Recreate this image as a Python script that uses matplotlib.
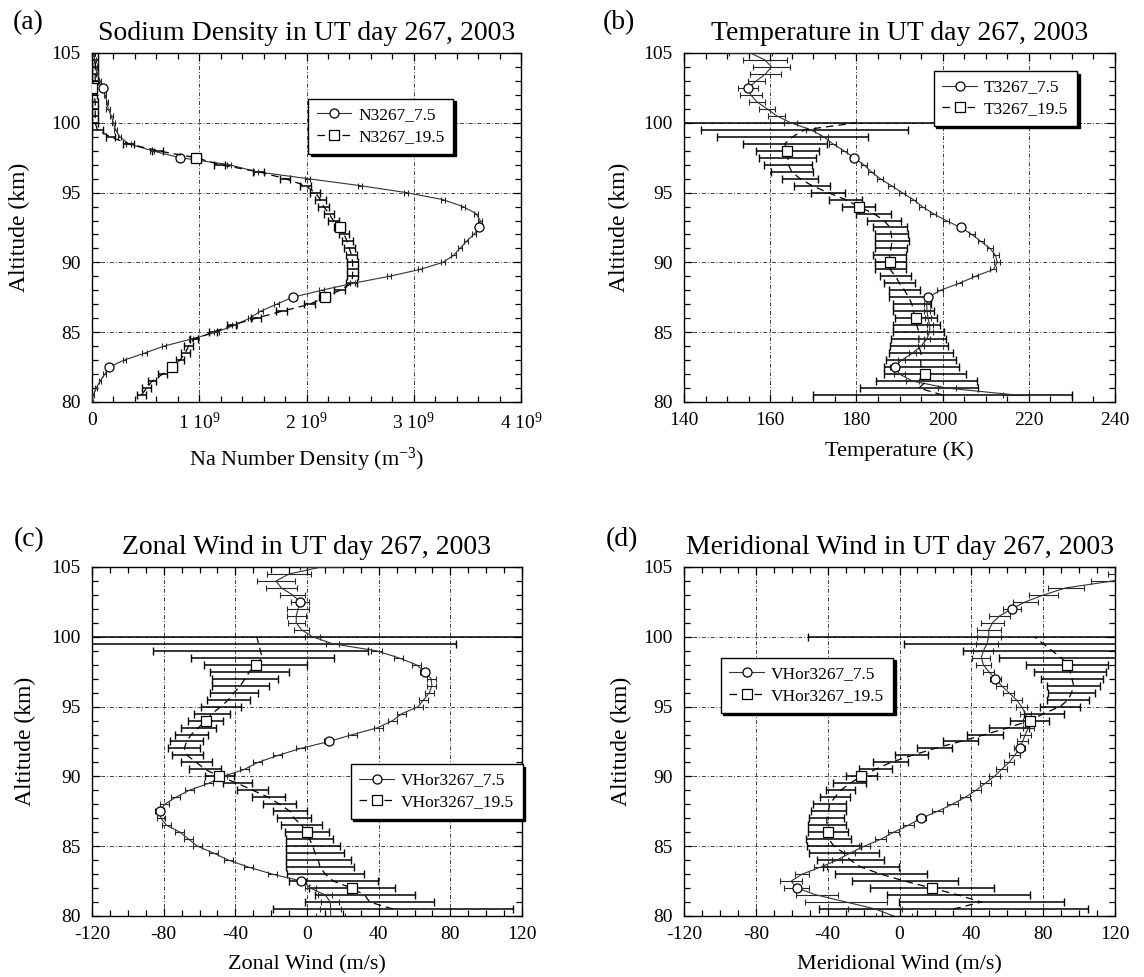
import numpy as np
import matplotlib
matplotlib.use("Agg")
import matplotlib.pyplot as plt
from matplotlib.ticker import MultipleLocator

nan = np.nan

plt.rcParams['font.family'] = ['Liberation Serif', 'DejaVu Serif']
plt.rcParams['mathtext.default'] = 'regular'
plt.rcParams['axes.unicode_minus'] = False

# altitude grid (km), shared by every profile
alt = [80.0, 80.5, 81.0, 81.5, 82.0, 82.5, 83.0, 83.5, 84.0, 84.5,
       85.0, 85.5, 86.0, 86.5, 87.0, 87.5, 88.0, 88.5, 89.0, 89.5,
       90.0, 90.5, 91.0, 91.5, 92.0, 92.5, 93.0, 93.5, 94.0, 94.5,
       95.0, 95.5, 96.0, 96.5, 97.0, 97.5, 98.0, 98.5, 99.0, 99.5,
       100.0, 100.5, 101.0, 101.5, 102.0, 102.5, 103.0, 103.5, 104.0, 104.5,
       105.0]

# (a) Na density, 1e9 m^-3
na_07 = [0.00, 0.01, 0.04, 0.075, 0.12, 0.16, 0.30, 0.49, 0.67, 0.92,
         1.16, 1.33, 1.47, 1.57, 1.72, 1.87, 2.14, 2.43, 2.77, 3.06,
         3.27, 3.37, 3.43, 3.49, 3.56, 3.61, 3.62, 3.58, 3.46, 3.27,
         2.93, 2.50, 2.01, 1.53, 1.28, 0.82, 0.56, 0.34, 0.26, 0.22,
         0.20, 0.18, 0.15, 0.14, 0.12, 0.10, 0.075, 0.05, 0.035, 0.024,
         0.017]
na_07_err = [0.01, 0.01, 0.01, 0.01, 0.015, 0.015, 0.015, 0.02, 0.02, 0.02,
             0.02, 0.02, 0.02, 0.02, 0.02, 0.02, 0.02, 0.02, 0.02, 0.02,
             0.02, 0.02, 0.02, 0.02, 0.02, 0.02, 0.02, 0.02, 0.02, 0.02,
             0.02, 0.02, 0.02, 0.02, 0.02, 0.02, 0.02, 0.02, 0.015, 0.015,
             0.015, 0.015, 0.015, 0.01, 0.01, 0.01, 0.01, 0.01, 0.01, 0.01,
             0.01]
na_19 = [nan, 0.46, 0.51, 0.56, 0.66, 0.75, 0.82, 0.87, 0.90, 0.95,
         1.13, 1.30, 1.53, 1.77, 2.03, 2.17, 2.31, 2.42, 2.43, 2.43,
         2.43, 2.42, 2.40, 2.38, 2.35, 2.31, 2.25, 2.21, 2.16, 2.13,
         2.08, 1.99, 1.80, 1.55, 1.19, 0.97, 0.61, 0.34, 0.17, 0.05,
         0.03, 0.03, 0.03, 0.03, 0.02, 0.00, 0.03, 0.03, 0.03, 0.03,
         0.03]
na_19_err = [nan, 0.04, 0.04, 0.04, 0.04, 0.04, 0.04, 0.04, 0.04, 0.04,
             0.04, 0.04, 0.05, 0.05, 0.05, 0.05, 0.05, 0.05, 0.05, 0.05,
             0.05, 0.05, 0.05, 0.05, 0.05, 0.05, 0.05, 0.05, 0.05, 0.05,
             0.05, 0.05, 0.05, 0.05, 0.05, 0.05, 0.05, 0.05, 0.04, 0.05,
             0.03, 0.03, 0.03, 0.03, 0.03, 0.03, 0.03, 0.03, 0.03, 0.03,
             0.03]

# (b) temperature, K
t_07 = [nan, 217.0, 201.0, 193.0, 190.0, 188.9, 190.5, 193.0, 195.0, 196.3,
        197.0, 197.0, 196.6, 196.4, 196.3, 196.6, 199.5, 203.8, 207.6, 211.8,
        212.7, 212.3, 211.0, 208.9, 206.8, 204.2, 200.8, 197.8, 195.3, 193.2,
        190.6, 188.1, 185.5, 183.4, 181.7, 179.4, 177.1, 174.5, 172.4, 169.4,
        164.8, 161.5, 159.3, 156.9, 155.5, 154.9, 156.8, 158.9, 160.3, 158.8,
        155.4]
t_07_err = [nan, 3.0, 2.0, 1.5, 1.2, 1.0, 0.8, 0.8, 0.8, 0.7,
            0.7, 0.7, 0.7, 0.7, 0.7, 0.7, 0.7, 0.7, 0.7, 0.7,
            0.7, 0.7, 0.7, 0.7, 0.7, 0.7, 0.7, 0.7, 0.7, 0.7,
            0.7, 0.7, 0.7, 0.7, 0.7, 0.7, 0.7, 0.8, 0.9, 1.0,
            1.5, 1.9, 1.8, 1.9, 2.5, 2.3, 1.9, 3.5, 4.2, 5.0,
            5.0]
t_19 = [nan, 200.0, 194.5, 196.3, 196.0, 195.0, 194.9, 195.0, 194.5, 194.5,
        194.5, 194.0, 193.8, 193.2, 192.9, 192.1, 191.2, 190.0, 189.1, 187.8,
        187.8, 187.7, 188.0, 188.3, 188.1, 187.8, 186.4, 184.0, 180.5, 177.5,
        173.4, 169.7, 166.9, 165.0, 164.2, 164.1, 164.0, 163.4, 165.2, 168.0,
        180.0, nan, nan, nan, nan, nan, nan, nan, nan, nan,
        nan]
t_19_err = [nan, 30.0, 13.6, 11.7, 9.5, 8.7, 8.1, 7.4, 6.8, 6.4,
            5.9, 5.5, 4.9, 4.7, 4.5, 4.5, 3.6, 3.6, 3.6, 3.6,
            3.6, 3.8, 3.7, 4.0, 3.8, 3.9, 4.0, 4.0, 3.8, 3.8,
            4.0, 4.1, 4.2, 4.9, 5.6, 6.6, 7.4, 9.8, 17.5, 24.0,
            45.0, nan, nan, nan, nan, nan, nan, nan, nan, nan,
            nan]

# (c) zonal wind, m/s
u_07 = [13.2, 13.2, 13.0, 10.2, 2.0, -3.1, -19.4, -32.6, -43.8, -52.0,
        -61.1, -66.0, -70.9, -78.4, -81.5, -82.1, -79.5, -73.3, -65.8, -55.0,
        -46.9, -35.0, -27.5, -16.3, -3.7, 12.2, 25.5, 39.7, 47.9, 53.0,
        62.1, 65.2, 68.3, 69.7, 69.3, 65.8, 61.0, 51.0, 38.7, 14.3,
        3.1, -3.0, -6.0, -6.0, -5.0, -3.7, -8.1, -14.3, -17.3, -10.0,
        8.0]
u_07_err = [8.0, 6.0, 5.0, 4.0, 3.0, 2.5, 2.5, 2.5, 2.5, 2.5,
            2.5, 2.5, 2.5, 2.5, 2.5, 2.5, 2.5, 2.5, 2.5, 2.5,
            2.5, 2.5, 2.5, 2.5, 2.5, 2.5, 2.5, 2.5, 2.5, 2.5,
            2.5, 2.5, 2.5, 2.5, 2.5, 2.5, 2.5, 2.5, 3.0, 3.5,
            4.0, 4.3, 4.8, 5.4, 6.3, 5.0, 7.1, 8.7, 10.4, 12.4,
            12.0]
u_19 = [nan, 48.0, 35.0, 32.2, 24.9, 14.7, 10.2, 7.3, 6.3, 4.5,
        3.3, 1.4, 0.0, -3.1, -7.1, -9.4, -15.3, -21.4, -30.2, -38.7,
        -48.9, -56.8, -61.7, -66.8, -68.5, -67.2, -64.6, -60.5, -56.6, -53.0,
        -48.0, -43.8, -40.7, -37.2, -34.6, -32.1, -28.7, -25.0, -26.0, -27.0,
        -28.0, nan, nan, nan, nan, nan, nan, nan, nan, nan,
        nan]
u_19_err = [nan, 67.0, 36.0, 27.8, 24.0, 25.0, 21.4, 19.0, 18.0, 16.2,
            15.1, 13.2, 12.2, 11.2, 9.4, 9.4, 9.2, 9.2, 8.7, 8.2,
            8.2, 8.9, 8.7, 8.7, 9.0, 9.2, 9.2, 9.6, 9.7, 10.2,
            11.4, 12.2, 13.2, 15.8, 18.3, 21.9, 28.7, 40.0, 60.0, 110.0,
            200.0, nan, nan, nan, nan, nan, nan, nan, nan, nan,
            nan]

# (d) meridional wind, m/s
v_07 = [-3.3, -13.4, -29.7, -46.0, -57.3, -60.3, -54.2, -44.0, -34.8, -27.7,
        -19.6, -10.4, -3.3, 4.9, 12.0, 21.2, 29.3, 36.5, 42.6, 47.7,
        52.8, 56.8, 61.0, 64.0, 67.0, 68.5, 70.1, 71.7, 71.7, 70.1,
        68.0, 65.0, 60.9, 56.8, 53.4, 49.7, 46.7, 45.6, 46.7, 48.7,
        49.7, 49.7, 51.8, 55.8, 62.5, 70.0, 80.3, 92.5, 118.9, 128.0,
        135.0]
v_07_err = [10.0, 15.0, 23.0, 11.7, 7.0, 6.0, 4.0, 3.5, 3.0, 3.0,
            3.0, 3.0, 3.0, 3.0, 3.0, 3.0, 3.0, 3.0, 3.0, 3.0,
            3.0, 3.0, 3.0, 3.0, 3.0, 3.0, 3.0, 3.0, 3.0, 3.0,
            3.0, 3.0, 3.0, 3.0, 3.0, 3.0, 4.0, 5.0, 5.5, 6.0,
            6.6, 6.6, 6.6, 6.0, 5.0, 7.0, 8.0, 10.0, 12.0, 12.0,
            12.0]
v_19 = [nan, 30.0, 45.6, 32.8, 18.1, 2.9, -10.4, -21.4, -27.3, -30.8,
        -36.5, -39.3, -40.0, -40.3, -40.5, -39.5, -39.0, -36.0, -32.8, -27.7,
        -21.2, -13.4, -4.9, 6.9, 19.6, 33.8, 47.7, 60.9, 72.5, 80.3,
        89.4, 94.0, 95.8, 97.0, 96.0, 95.0, 93.5, 90.0, 85.0, 80.0,
        75.0, nan, nan, nan, nan, nan, nan, nan, nan, nan,
        nan]
v_19_err = [nan, 75.0, 45.8, 39.7, 34.6, 29.5, 25.5, 21.0, 18.8, 19.4,
            14.8, 12.5, 11.2, 10.5, 9.7, 9.7, 9.4, 8.4, 8.2, 9.2,
            8.7, 9.2, 9.7, 9.2, 9.7, 9.7, 10.2, 11.2, 10.7, 11.2,
            11.2, 11.7, 13.0, 14.8, 17.3, 19.9, 22.8, 34.6, 49.5, 77.6,
            126.0, nan, nan, nan, nan, nan, nan, nan, nan, nan,
            nan]

W, H = 1144, 977
fig = plt.figure(figsize=(W / 100, H / 100), dpi=100)


def draw_panel(rect, letter, letter_xy, title, xlabel, x07, e07, x19, e19,
               mark07, mark19, names, xlim, xmajor, xminor, legend_at,
               ylabel_x, scale=1.0):
    ax = fig.add_axes(rect)
    a = np.array(alt)
    x07 = np.array(x07) * scale
    e07 = np.array(e07) * scale
    x19 = np.array(x19) * scale
    e19 = np.array(e19) * scale
    idx07 = [alt.index(m) for m in mark07]
    idx19 = [alt.index(m) for m in mark19]

    ax.errorbar(x19, a, xerr=e19, fmt='none', ecolor='black', elinewidth=1.1,
                capsize=3, capthick=1.0, zorder=3)
    ax.errorbar(x07, a, xerr=e07, fmt='none', ecolor='0.15', elinewidth=0.8,
                capsize=2.5, capthick=0.8, zorder=3)
    l1, = ax.plot(x07, a, color='0.2', lw=0.8, marker='o', ms=6.5, mfc='white',
                  mec='black', mew=0.9, markevery=idx07, zorder=4)
    l2, = ax.plot(x19, a, color='black', lw=0.9, ls=(0, (6, 4)), marker='s',
                  ms=6.5, mfc='white', mec='black', mew=0.9, markevery=idx19,
                  zorder=4)

    ax.set_xlim(*xlim)
    ax.set_ylim(80, 105)
    ax.xaxis.set_major_locator(MultipleLocator(xmajor))
    ax.xaxis.set_minor_locator(MultipleLocator(xminor))
    ax.yaxis.set_major_locator(MultipleLocator(5))
    ax.yaxis.set_minor_locator(MultipleLocator(1))
    ax.tick_params(which='both', direction='in', top=True, right=True,
                   labelsize=14, width=0.9)
    ax.tick_params(which='major', length=6)
    ax.tick_params(which='minor', length=4)
    ax.tick_params(axis='x', which='major', pad=7)
    ax.tick_params(axis='y', which='major', pad=8)
    ax.grid(True, which='major', color='0.25', lw=0.7, ls=(0, (4, 2, 1, 2)))
    for s in ax.spines.values():
        s.set_linewidth(1.0)

    ax.set_title(title, fontsize=20, pad=9)
    ax.set_xlabel(xlabel, fontsize=16, labelpad=9)
    ax.set_ylabel('Altitude (km)', fontsize=17)
    ax.yaxis.set_label_coords(ylabel_x, 0.5)

    leg = ax.legend([l1, l2], names, loc='upper left', bbox_to_anchor=legend_at,
                    fontsize=12.5, frameon=True, fancybox=False,
                    shadow={'color': 'black', 'alpha': 1.0},
                    edgecolor='black', framealpha=1, handlelength=2.0,
                    handletextpad=0.4, borderpad=0.5, labelspacing=0.3)
    leg.get_frame().set_linewidth(1.0)

    fig.text(letter_xy[0] / W, 1 - letter_xy[1] / H, letter, fontsize=20,
             va='center')
    return ax


ax_a = draw_panel([92 / W, 1 - 402 / H, 429 / W, 349 / H], '(a)', (13, 23),
                  'Sodium Density in UT day 267, 2003',
                  'Na Number Density (m$^{-3}$)',
                  na_07, na_07_err, na_19, na_19_err,
                  [82.5, 87.5, 92.5, 97.5, 102.5], [82.5, 87.5, 92.5, 97.5, 102.5],
                  ['N3267_7.5', 'N3267_19.5'], (0, 4e9), 1e9, 0.2e9,
                  (0.483, 0.894), -0.145, scale=1e9)
ax_a.set_xticks([0, 1e9, 2e9, 3e9, 4e9])
ax_a.set_xticklabels(['0', '1 10$^9$', '2 10$^9$', '3 10$^9$', '4 10$^9$'])

draw_panel([684 / W, 1 - 402 / H, 431 / W, 349 / H], '(b)', (603, 23),
           'Temperature in UT day 267, 2003', 'Temperature (K)',
           t_07, t_07_err, t_19, t_19_err,
           [82.5, 87.5, 92.5, 97.5, 102.5], [82.0, 86.0, 90.0, 94.0, 98.0],
           ['T3267_7.5', 'T3267_19.5'], (140, 240), 20, 5, (0.559, 0.974),
           -0.125)

draw_panel([92 / W, 1 - 916 / H, 430 / W, 349 / H], '(c)', (14, 540),
           'Zonal Wind in UT day 267, 2003', 'Zonal Wind (m/s)',
           u_07, u_07_err, u_19, u_19_err,
           [82.5, 87.5, 92.5, 97.5, 102.5], [82.0, 86.0, 90.0, 94.0, 98.0],
           ['VHor3267_7.5', 'VHor3267_19.5'], (-120, 120), 40, 10,
           (0.581, 0.461), -0.13)

draw_panel([684 / W, 1 - 916 / H, 431 / W, 349 / H], '(d)', (606, 540),
           'Meridional Wind in UT day 267, 2003', 'Meridional Wind (m/s)',
           v_07, v_07_err, v_19, v_19_err,
           [82.0, 87.0, 92.0, 97.0, 102.0], [82.0, 86.0, 90.0, 94.0, 98.0],
           ['VHor3267_7.5', 'VHor3267_19.5'], (-120, 120), 40, 10,
           (0.065, 0.765), -0.12)

fig.savefig('out.png', dpi=100)
